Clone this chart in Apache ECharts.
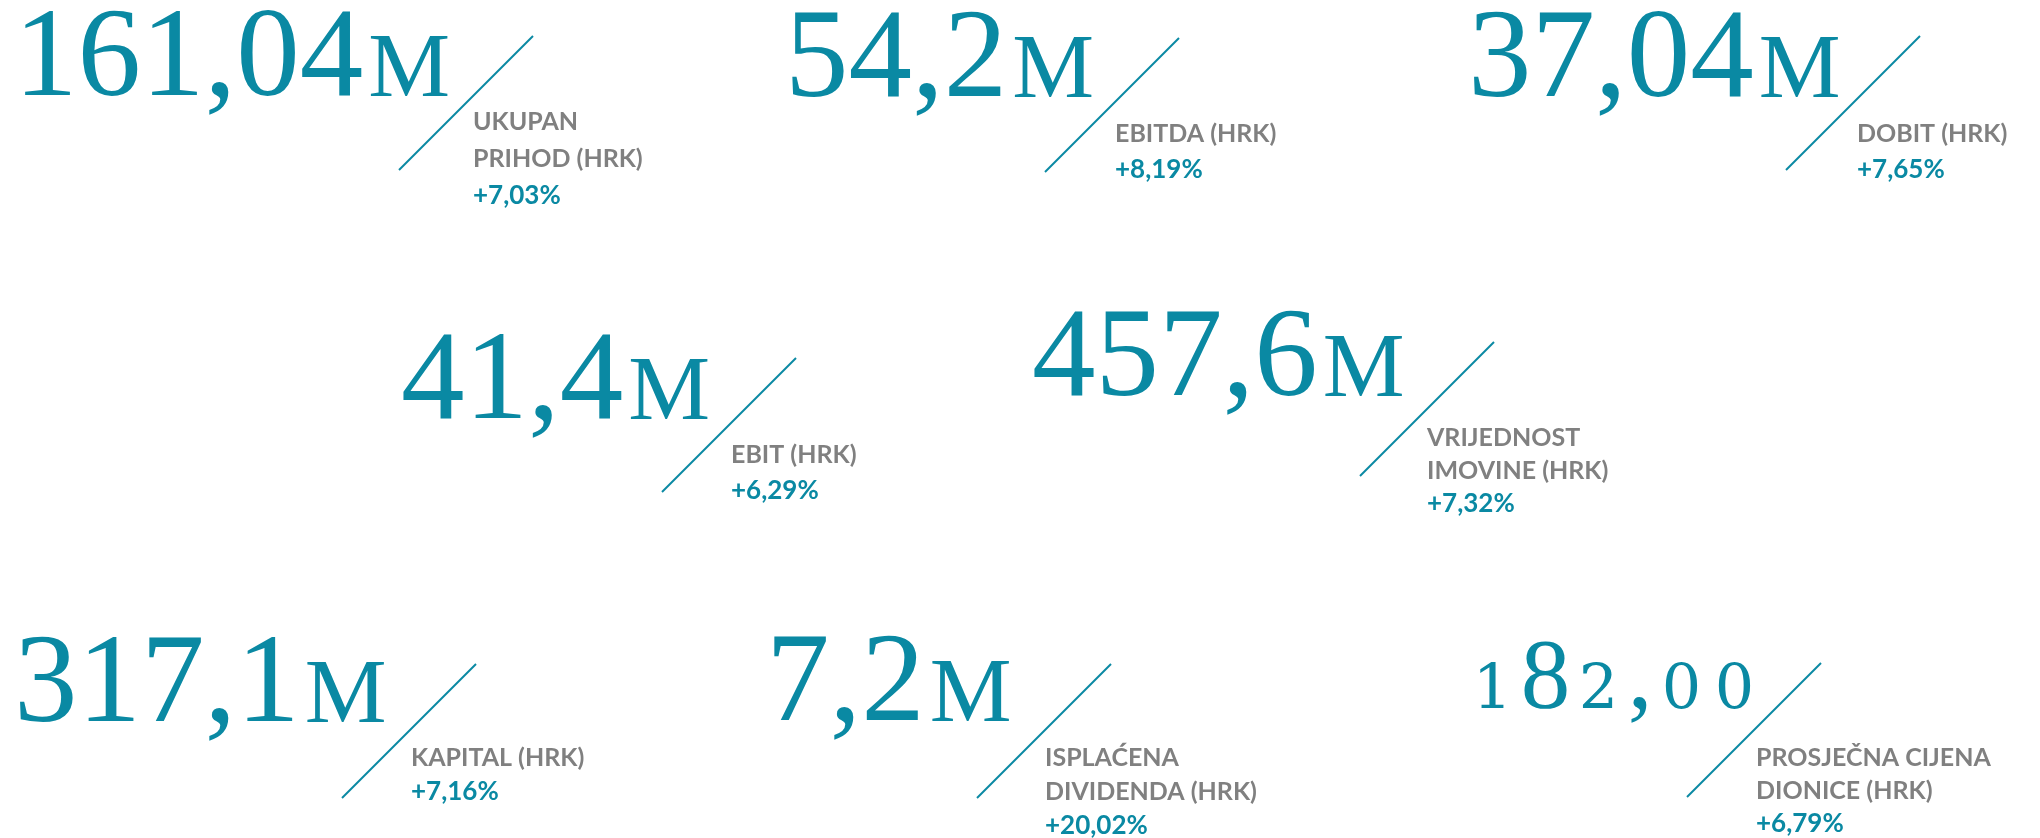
<!DOCTYPE html>
<html>
<head>
<meta charset="utf-8">
<script src="https://cdn.jsdelivr.net/npm/echarts@6/dist/echarts.min.js"></script>
<style>
  html, body { margin: 0; padding: 0; background: #fff; }
  #main { width: 2040px; height: 838px; }
</style>
</head>
<body>
<div id="main"></div>
<script>
// podaci
const values = ['161,04', '54,2', '37,04', '41,4', '457,6', '317,1', '7,2', '182,00'];
const units = ['M', 'M', 'M', 'M', 'M', 'M', 'M', ''];
const labels = [
  ['UKUPAN', 'PRIHOD (HRK)'],
  ['EBITDA (HRK)'],
  ['DOBIT (HRK)'],
  ['EBIT (HRK)'],
  ['VRIJEDNOST', 'IMOVINE (HRK)'],
  ['KAPITAL (HRK)'],
  ['ISPLAĆENA', 'DIVIDENDA (HRK)'],
  ['PROSJEČNA CIJENA', 'DIONICE (HRK)']
];
const changes = ['+7,03%', '+8,19%', '+7,65%', '+6,29%', '+7,32%', '+7,16%', '+20,02%', '+6,79%'];
const oldstyle = [false, false, false, false, false, false, false, true];

// raspored: broj (lijevo, bazna linija), dno kose crte, oznaka (x, prvi red, razmak)
const layout = [
  { x: 14,   y: 100, sx: 399,  sy: 170, lx: 473,  ly: 122, lh: 37 },
  { x: 785,  y: 101, sx: 1045, sy: 172, lx: 1115, ly: 134, lh: 36 },
  { x: 1468, y: 101, sx: 1786, sy: 170, lx: 1857, ly: 134, lh: 36 },
  { x: 401,  y: 423, sx: 662,  sy: 492, lx: 731,  ly: 455, lh: 36 },
  { x: 1032, y: 400, sx: 1360, sy: 476, lx: 1427, ly: 438, lh: 33 },
  { x: 14,   y: 726, sx: 342,  sy: 798, lx: 411,  ly: 758, lh: 34 },
  { x: 766,  y: 725, sx: 977,  sy: 798, lx: 1045, ly: 758, lh: 34 },
  { x: 1466, y: 711, sx: 1687, sy: 797, lx: 1756, ly: 758, lh: 33 }
];

const TEAL = '#0a89a3';
const GREY = '#808080';
const SERIF = '"Liberation Serif", "DejaVu Serif", serif';
const SERIF2 = '"DejaVu Serif", serif';
const SANS = 'Lato, "Open Sans", sans-serif';
const BIG = 127;
const TALL = 99;
const SLASH = 134;

const rich = {
  n: { fontFamily: SERIF, fontSize: BIG, lineHeight: BIG, verticalAlign: 'bottom', color: TEAL },
  u: { fontFamily: SERIF, fontSize: 92, lineHeight: 92, verticalAlign: 'bottom', color: TEAL, padding: [0, 0, 7, 5] },
  // oldstyle brojke: visoke, niske i zarez
  t: { fontFamily: SERIF, fontSize: TALL, lineHeight: TALL, verticalAlign: 'bottom', color: TEAL, width: 53, align: 'center' },
  s: { fontFamily: SERIF2, fontSize: 62, lineHeight: 62, verticalAlign: 'bottom', color: TEAL, width: 53, align: 'center', padding: [0, 0, 7, 0] },
  c: { fontFamily: SERIF, fontSize: TALL, lineHeight: TALL, verticalAlign: 'bottom', color: TEAL, width: 30, align: 'center' }
};

function numText(i) {
  if (oldstyle[i]) {
    return values[i].split('').map(function (ch) {
      let k = '68'.indexOf(ch) >= 0 ? 't' : (ch === ',' ? 'c' : 's');
      return '{' + k + '|' + ch + '}';
    }).join('');
  }
  return '{n|' + values[i] + '}' + (units[i] ? '{u|' + units[i] + '}' : '');
}

const elements = [];
values.forEach(function (v, i) {
  const L = layout[i];
  const f = oldstyle[i] ? TALL : BIG;
  elements.push({
    type: 'text',
    x: L.x,
    y: L.y + Math.round(0.195 * f),
    style: {
      text: numText(i),
      rich: rich,
      fill: TEAL,
      textAlign: 'left',
      textVerticalAlign: 'bottom',
      align: 'left',
      verticalAlign: 'bottom'
    }
  });
  elements.push({
    type: 'line',
    shape: { x1: L.sx, y1: L.sy, x2: L.sx + SLASH, y2: L.sy - SLASH },
    style: { stroke: TEAL, lineWidth: 2 }
  });
  const lines = labels[i].concat([changes[i]]);
  lines.forEach(function (t, k) {
    const isChange = k === lines.length - 1;
    elements.push({
      type: 'text',
      x: L.lx,
      y: L.ly + k * L.lh,
      style: {
        text: t,
        fill: isChange ? TEAL : GREY,
        font: 'bold ' + (isChange ? 26 : 25) + 'px ' + SANS,
        textAlign: 'left',
        textVerticalAlign: 'middle',
        align: 'left',
        verticalAlign: 'middle'
      }
    });
  });
});

const myChart = echarts.init(document.getElementById('main'));
myChart.setOption({
  backgroundColor: '#fff',
  animation: false,
  graphic: { elements: elements }
});
</script>
</body>
</html>
